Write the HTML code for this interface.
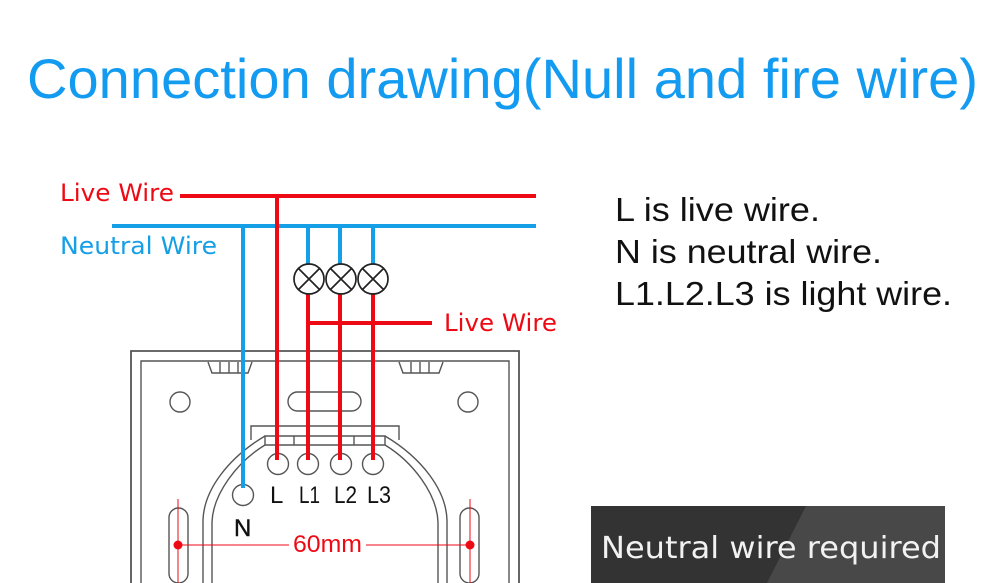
<!DOCTYPE html>
<html><head><meta charset="utf-8"><style>
html,body{margin:0;padding:0;background:#fff}
svg{display:block}
text{font-family:"Liberation Sans",sans-serif}
text.g{font-family:"DejaVu Sans",sans-serif}
</style></head><body>
<svg width="1000" height="583" viewBox="0 0 1000 583" xmlns="http://www.w3.org/2000/svg">
<rect width="1000" height="583" fill="#fff"/>
<text x="27" y="98" font-size="56" fill="#129bf0" textLength="951" lengthAdjust="spacing">Connection drawing(Null and fire wire)</text>
<g font-size="33" fill="#111">
<text x="615" y="221" textLength="205" lengthAdjust="spacingAndGlyphs">L is live wire.</text>
<text x="615" y="263" textLength="267" lengthAdjust="spacingAndGlyphs">N is neutral wire.</text>
<text x="615" y="305" textLength="337" lengthAdjust="spacingAndGlyphs">L1.L2.L3 is light wire.</text>
</g>
<!-- panel -->
<g fill="none" stroke="#555" stroke-width="1.4">
<path d="M131 583V351H519V583" stroke-width="1.8"/>
<path d="M141 583V361H509V583"/>
<path d="M208 362l4 11h36l4-11M220 362v11M229 362v11M238 362v11"/>
<path d="M399 362l4 11h36l4-11M411 362v11M420 362v11M429 362v11"/>
<circle cx="180" cy="402" r="10"/>
<circle cx="468" cy="402" r="10"/>
<rect x="288" y="392" width="73" height="19" rx="9.5"/>
<path d="M251 440V426H399V440"/>
<path d="M265 436H385V445H265ZM294 436v9M354 436v9"/>
<path d="M265 436C228 458 204 490 203 520V583"/>
<path d="M265 445C237 462 213 494 212 522V583"/>
<path d="M385 436C422 458 446 490 447 520V583"/>
<path d="M385 445C413 462 437 494 438 522V583"/>
<circle cx="278" cy="464" r="10.5"/>
<circle cx="308" cy="464" r="10.5"/>
<circle cx="341" cy="464" r="10.5"/>
<circle cx="373" cy="464" r="10.5"/>
<circle cx="243" cy="495" r="10.5"/>
<rect x="169" y="508" width="19" height="75" rx="9.5"/>
<rect x="460" y="508" width="19" height="75" rx="9.5"/>
</g>
<!-- wires -->
<g fill="none" stroke-width="4">
<path d="M180 196H536" stroke="#ee0a14"/>
<path d="M112 226H536" stroke="#149fe6"/>
<path d="M243 226V488" stroke="#149fe6"/>
<path d="M308 226V265M340 226V265M373 226V265" stroke="#149fe6"/>
<path d="M277 196V460" stroke="#ee0a14"/>
<path d="M308 293V460M340 293V460M373 293V460" stroke="#ee0a14"/>
<path d="M308 323H432" stroke="#ee0a14"/>
</g>
<!-- bulbs -->
<g fill="#fff" stroke="#222" stroke-width="1.7">
<g><circle cx="309" cy="279" r="15"/><path d="M298.500 268.500l21 21M319.500 268.500l-21 21"/></g>
<g><circle cx="341" cy="279" r="15"/><path d="M330.500 268.500l21 21M351.500 268.500l-21 21"/></g>
<g><circle cx="373" cy="279" r="15"/><path d="M362.500 268.500l21 21M383.500 268.500l-21 21"/></g>
</g>
<!-- labels -->
<g font-size="24">
<text class="g" x="60" y="201" fill="#ee0a14" textLength="114" lengthAdjust="spacingAndGlyphs">Live Wire</text>
<text class="g" x="60" y="254" fill="#149fe6" textLength="157" lengthAdjust="spacingAndGlyphs">Neutral Wire</text>
<text class="g" x="444" y="331" fill="#ee0a14" textLength="113" lengthAdjust="spacingAndGlyphs">Live Wire</text>
</g>
<g font-size="24" fill="#111">
<text x="270" y="503">L</text>
<text x="299" y="503" textLength="21" lengthAdjust="spacingAndGlyphs">L1</text>
<text x="334" y="503" textLength="23" lengthAdjust="spacingAndGlyphs">L2</text>
<text x="367" y="503" textLength="24" lengthAdjust="spacingAndGlyphs">L3</text>
<text x="234" y="536" stroke="#111" stroke-width="0.4">N</text>
</g>
<!-- dimension -->
<g stroke="#ee0a14" stroke-width="1" fill="none">
<path d="M178 499V583M470 499V583M178 545H289M366 545H470"/>
</g>
<circle cx="178" cy="545" r="4.5" fill="#ee0a14"/>
<circle cx="470" cy="545" r="4.5" fill="#ee0a14"/>
<text x="293" y="552" font-size="24" fill="#ee0a14" textLength="69" lengthAdjust="spacingAndGlyphs">60mm</text>
<!-- badge -->
<rect x="591" y="506" width="354" height="77" fill="#333"/>
<path d="M806 506H945V583H767Z" fill="#484848"/>
<text class="g" x="601" y="558" font-size="30" fill="#f2f2f2" textLength="340" lengthAdjust="spacingAndGlyphs">Neutral wire required</text>
</svg>
</body></html>
